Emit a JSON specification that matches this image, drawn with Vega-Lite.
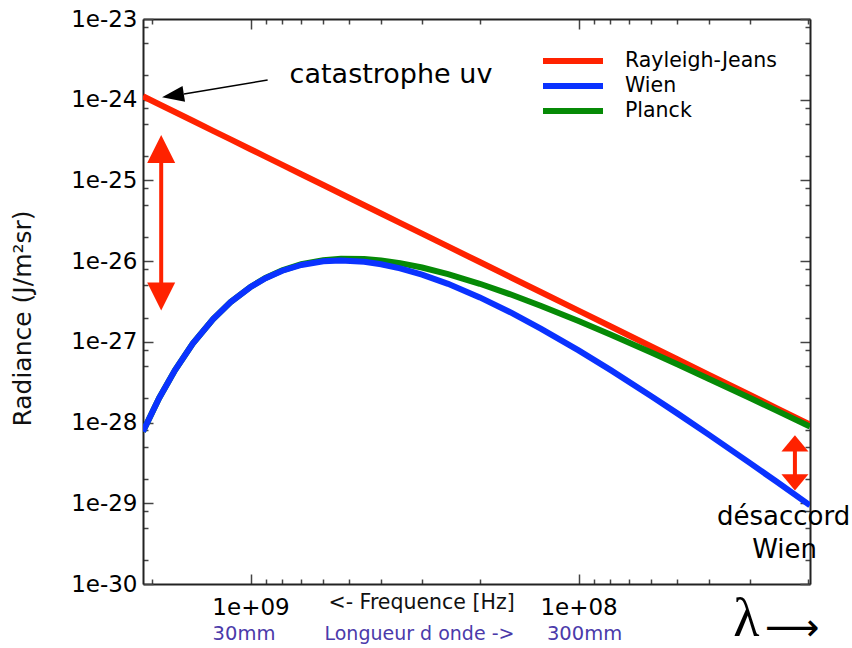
{
  "$schema": "https://vega.github.io/schema/vega-lite/v6.json",
  "width": 667,
  "height": 565,
  "autosize": "none",
  "padding": {"left": 143, "top": 19, "right": 42, "bottom": 64},
  "background": "white",
  "config": {"view": {"stroke": null}, "font": "DejaVu Sans"},
  "datasets": {
    "curves": [
      {"serie": "Rayleigh-Jeans", "nu": 2.127e9, "r": 1.102e-24},
      {"serie": "Rayleigh-Jeans", "nu": 1.9e9, "r": 8.793e-25},
      {"serie": "Rayleigh-Jeans", "nu": 1.7e9, "r": 7.040e-25},
      {"serie": "Rayleigh-Jeans", "nu": 1.5e9, "r": 5.481e-25},
      {"serie": "Rayleigh-Jeans", "nu": 1.3e9, "r": 4.117e-25},
      {"serie": "Rayleigh-Jeans", "nu": 1.15e9, "r": 3.222e-25},
      {"serie": "Rayleigh-Jeans", "nu": 1.0e9, "r": 2.436e-25},
      {"serie": "Rayleigh-Jeans", "nu": 9e8, "r": 1.973e-25},
      {"serie": "Rayleigh-Jeans", "nu": 8e8, "r": 1.559e-25},
      {"serie": "Rayleigh-Jeans", "nu": 7e8, "r": 1.194e-25},
      {"serie": "Rayleigh-Jeans", "nu": 6e8, "r": 8.770e-26},
      {"serie": "Rayleigh-Jeans", "nu": 5.3e8, "r": 6.843e-26},
      {"serie": "Rayleigh-Jeans", "nu": 4.5e8, "r": 4.933e-26},
      {"serie": "Rayleigh-Jeans", "nu": 4e8, "r": 3.898e-26},
      {"serie": "Rayleigh-Jeans", "nu": 3.5e8, "r": 2.984e-26},
      {"serie": "Rayleigh-Jeans", "nu": 3e8, "r": 2.192e-26},
      {"serie": "Rayleigh-Jeans", "nu": 2.5e8, "r": 1.523e-26},
      {"serie": "Rayleigh-Jeans", "nu": 2e8, "r": 9.744e-27},
      {"serie": "Rayleigh-Jeans", "nu": 1.6e8, "r": 6.236e-27},
      {"serie": "Rayleigh-Jeans", "nu": 1.3e8, "r": 4.117e-27},
      {"serie": "Rayleigh-Jeans", "nu": 1e8, "r": 2.436e-27},
      {"serie": "Rayleigh-Jeans", "nu": 8e7, "r": 1.559e-27},
      {"serie": "Rayleigh-Jeans", "nu": 6e7, "r": 8.770e-28},
      {"serie": "Rayleigh-Jeans", "nu": 5e7, "r": 6.090e-28},
      {"serie": "Rayleigh-Jeans", "nu": 4e7, "r": 3.898e-28},
      {"serie": "Rayleigh-Jeans", "nu": 3e7, "r": 2.192e-28},
      {"serie": "Rayleigh-Jeans", "nu": 2.5e7, "r": 1.523e-28},
      {"serie": "Rayleigh-Jeans", "nu": 1.97e7, "r": 9.454e-29},
      {"serie": "Wien", "nu": 2.127e9, "r": 7.76e-29},
      {"serie": "Wien", "nu": 1.9e9, "r": 2.002e-28},
      {"serie": "Wien", "nu": 1.7e9, "r": 4.454e-28},
      {"serie": "Wien", "nu": 1.5e9, "r": 9.502e-28},
      {"serie": "Wien", "nu": 1.3e9, "r": 1.920e-27},
      {"serie": "Wien", "nu": 1.15e9, "r": 3.109e-27},
      {"serie": "Wien", "nu": 1.0e9, "r": 4.782e-27},
      {"serie": "Wien", "nu": 9e8, "r": 6.143e-27},
      {"serie": "Wien", "nu": 8e8, "r": 7.602e-27},
      {"serie": "Wien", "nu": 7e8, "r": 8.974e-27},
      {"serie": "Wien", "nu": 6e8, "r": 9.959e-27},
      {"serie": "Wien", "nu": 5.3e8, "r": 1.020e-26},
      {"serie": "Wien", "nu": 4.5e8, "r": 9.826e-27},
      {"serie": "Wien", "nu": 4e8, "r": 9.161e-27},
      {"serie": "Wien", "nu": 3.5e8, "r": 8.147e-27},
      {"serie": "Wien", "nu": 3e8, "r": 6.810e-27},
      {"serie": "Wien", "nu": 2.5e8, "r": 5.232e-27},
      {"serie": "Wien", "nu": 2e8, "r": 3.556e-27},
      {"serie": "Wien", "nu": 1.6e8, "r": 2.284e-27},
      {"serie": "Wien", "nu": 1.3e8, "r": 1.452e-27},
      {"serie": "Wien", "nu": 1e8, "r": 7.832e-28},
      {"serie": "Wien", "nu": 8e7, "r": 4.491e-28},
      {"serie": "Wien", "nu": 6e7, "r": 2.122e-28},
      {"serie": "Wien", "nu": 5e7, "r": 1.300e-28},
      {"serie": "Wien", "nu": 4e7, "r": 7.041e-29},
      {"serie": "Wien", "nu": 3e7, "r": 3.144e-29},
      {"serie": "Wien", "nu": 2.5e7, "r": 1.872e-29},
      {"serie": "Wien", "nu": 1.97e7, "r": 9.437e-30},
      {"serie": "Planck", "nu": 2.127e9, "r": 7.76e-29},
      {"serie": "Planck", "nu": 1.9e9, "r": 2.002e-28},
      {"serie": "Planck", "nu": 1.7e9, "r": 4.454e-28},
      {"serie": "Planck", "nu": 1.5e9, "r": 9.504e-28},
      {"serie": "Planck", "nu": 1.3e9, "r": 1.921e-27},
      {"serie": "Planck", "nu": 1.15e9, "r": 3.114e-27},
      {"serie": "Planck", "nu": 1.0e9, "r": 4.798e-27},
      {"serie": "Planck", "nu": 9e8, "r": 6.181e-27},
      {"serie": "Planck", "nu": 8e8, "r": 7.685e-27},
      {"serie": "Planck", "nu": 7e8, "r": 9.147e-27},
      {"serie": "Planck", "nu": 6e8, "r": 1.030e-26},
      {"serie": "Planck", "nu": 5.3e8, "r": 1.074e-26},
      {"serie": "Planck", "nu": 4.5e8, "r": 1.066e-26},
      {"serie": "Planck", "nu": 4e8, "r": 1.022e-26},
      {"serie": "Planck", "nu": 3.5e8, "r": 9.448e-27},
      {"serie": "Planck", "nu": 3e8, "r": 8.333e-27},
      {"serie": "Planck", "nu": 2.5e8, "r": 6.907e-27},
      {"serie": "Planck", "nu": 2e8, "r": 5.245e-27},
      {"serie": "Planck", "nu": 1.6e8, "r": 3.831e-27},
      {"serie": "Planck", "nu": 1.3e8, "r": 2.785e-27},
      {"serie": "Planck", "nu": 1e8, "r": 1.811e-27},
      {"serie": "Planck", "nu": 8e7, "r": 1.232e-27},
      {"serie": "Planck", "nu": 6e7, "r": 7.364e-28},
      {"serie": "Planck", "nu": 5e7, "r": 5.268e-28},
      {"serie": "Planck", "nu": 4e7, "r": 3.473e-28},
      {"serie": "Planck", "nu": 3e7, "r": 2.011e-28},
      {"serie": "Planck", "nu": 2.5e7, "r": 1.417e-28},
      {"serie": "Planck", "nu": 1.97e7, "r": 8.936e-29}
    ],
    "blackarrow": [
      {"nu": 8.87e8, "r": 1.754e-24, "nu2": 1.595e9, "r2": 1.178e-24}
    ],
    "blackhead": [
      {"nu": 1.724e9, "r": 1.124e-24}
    ],
    "redarrows": [
      {"side": "left", "nu": 1.872e9, "r": 2.45e-25, "r2": 3.64e-27},
      {"side": "right", "nu": 2.19e7, "r": 5.52e-29, "r2": 1.82e-29}
    ],
    "redheads": [
      {"side": "left", "dir": "up", "nu": 1.872e9, "r": 2.45e-25},
      {"side": "left", "dir": "down", "nu": 1.872e9, "r": 3.64e-27},
      {"side": "right", "dir": "up", "nu": 2.19e7, "r": 5.52e-29},
      {"side": "right", "dir": "down", "nu": 2.19e7, "r": 1.82e-29}
    ],
    "texts": [
      {"kind": "cat", "label": "catastrophe uv", "nu": 7.6e8, "r": 2.02e-24},
      {"kind": "wien", "label": "désaccord", "nu": 2.37e7, "r": 6.75e-30},
      {"kind": "wien", "label": "Wien", "nu": 2.355e7, "r": 2.63e-30},
      {"kind": "freq", "label": "<- Frequence [Hz]", "nu": 5.785e8, "r": 5.75e-31},
      {"kind": "mm", "label": "30mm", "nu": 1.047e9, "r": 2.39e-31},
      {"kind": "onde", "label": "Longueur d onde ->", "nu": 5.95e8, "r": 2.39e-31},
      {"kind": "mm", "label": "300mm", "nu": 9.59e7, "r": 2.39e-31},
      {"kind": "lambda", "label": "λ", "nu": 3.08e7, "r": 3.55e-31},
      {"kind": "arrow", "label": "⟶", "nu": 2.23e7, "r": 2.8e-31}
    ]
  },
  "encoding": {
    "x": {"field": "nu", "type": "quantitative", "scale": {"type": "log", "domain": [1.97e7, 2.127e9], "reverse": true, "nice": false}, "axis": null},
    "y": {"field": "r", "type": "quantitative", "scale": {"type": "log", "domain": [1e-30, 1e-23], "nice": false}, "axis": null}
  },
  "layer": [
    {
      "data": {"name": "curves"},
      "transform": [{"filter": "datum.serie == 'Rayleigh-Jeans'"}],
      "mark": {"type": "line", "strokeWidth": 6, "strokeCap": "butt", "clip": true},
      "encoding": {
        "x": {"field": "nu", "type": "quantitative", "scale": {"type": "log", "domain": [1.97e7, 2.127e9], "reverse": true, "nice": false},
          "axis": {"orient": "bottom", "values": [2e7, 3e7, 4e7, 5e7, 6e7, 7e7, 8e7, 9e7, 1e8, 2e8, 3e8, 4e8, 5e8, 6e8, 7e8, 8e8, 9e8, 1e9, 2e9],
            "labelExpr": "abs(log(datum.value)/LN10 - round(log(datum.value)/LN10)) < 0.001 ? '1e+0' + round(log(datum.value)/LN10) : ''",
            "tickSize": {"condition": {"test": "abs(log(datum.value)/LN10 - round(log(datum.value)/LN10)) < 0.001", "value": -10}, "value": -5},
            "labelPadding": 22, "labelFontSize": 23, "labelFont": "DejaVu Sans", "labelColor": "#000", "labelFlush": false, "labelOverlap": false,
            "domainColor": "#222", "domainWidth": 2, "tickColor": "#444", "tickWidth": 1.5, "grid": false, "title": null}},
        "y": {"field": "r", "type": "quantitative", "scale": {"type": "log", "domain": [1e-30, 1e-23], "nice": false},
          "axis": {"orient": "left", "values": [1e-30, 2e-30, 5e-30, 8e-30, 1e-29, 2e-29, 5e-29, 8e-29, 1e-28, 2e-28, 5e-28, 8e-28, 1e-27, 2e-27, 5e-27, 8e-27, 1e-26, 2e-26, 5e-26, 8e-26, 1e-25, 2e-25, 5e-25, 8e-25, 1e-24, 2e-24, 5e-24, 8e-24, 1e-23],
            "labelExpr": "abs(log(datum.value)/LN10 - round(log(datum.value)/LN10)) < 0.001 ? '1e' + round(log(datum.value)/LN10) : ''",
            "tickSize": {"condition": {"test": "abs(log(datum.value)/LN10 - round(log(datum.value)/LN10)) < 0.001", "value": -10}, "value": -5},
            "labelPadding": 16, "labelFontSize": 23, "labelFont": "DejaVu Sans", "labelColor": "#000", "labelFlush": false, "labelOverlap": false,
            "domainColor": "#222", "domainWidth": 2, "tickColor": "#444", "tickWidth": 1.5, "grid": false,
            "title": "Radiance (J/m²sr)", "titleFont": "DejaVu Sans", "titleFontSize": 25, "titleFontWeight": "normal", "titleColor": "#111",
            "titleX": -121, "titleY": 299, "titleAngle": -90, "titleAlign": "center", "titleBaseline": "middle"}},
        "color": {"field": "serie", "type": "nominal",
          "scale": {"domain": ["Rayleigh-Jeans", "Wien", "Planck"], "range": ["#ff2200", "#0a32ff", "#068a06"]},
          "legend": {"orient": "none", "legendX": 417, "legendY": 29, "title": null, "padding": 0, "symbolType": "M-3,0H3", "symbolStrokeWidth": 6, "symbolSize": 400,
            "labelFontSize": 20.5, "labelFont": "DejaVu Sans", "labelColor": "#000", "labelOffset": 39, "rowPadding": -2}}
      }
    },
    {
      "data": {"name": "curves"},
      "transform": [{"filter": "datum.serie == 'Planck'"}],
      "mark": {"type": "line", "strokeWidth": 6, "strokeCap": "butt", "clip": true},
      "encoding": {
        "x": {"field": "nu", "type": "quantitative", "scale": {"type": "log", "domain": [1.97e7, 2.127e9], "reverse": true, "nice": false},
          "axis": {"orient": "top", "values": [2e7, 3e7, 4e7, 5e7, 6e7, 7e7, 8e7, 9e7, 1e8, 2e8, 3e8, 4e8, 5e8, 6e8, 7e8, 8e8, 9e8, 1e9, 2e9],
            "labels": false,
            "tickSize": {"condition": {"test": "abs(log(datum.value)/LN10 - round(log(datum.value)/LN10)) < 0.001", "value": -10}, "value": -5},
            "domainColor": "#222", "domainWidth": 2, "tickColor": "#444", "tickWidth": 1.5, "grid": false, "title": null}},
        "y": {"field": "r", "type": "quantitative", "scale": {"type": "log", "domain": [1e-30, 1e-23], "nice": false},
          "axis": {"orient": "right", "values": [1e-30, 2e-30, 5e-30, 8e-30, 1e-29, 2e-29, 5e-29, 8e-29, 1e-28, 2e-28, 5e-28, 8e-28, 1e-27, 2e-27, 5e-27, 8e-27, 1e-26, 2e-26, 5e-26, 8e-26, 1e-25, 2e-25, 5e-25, 8e-25, 1e-24, 2e-24, 5e-24, 8e-24, 1e-23],
            "labels": false,
            "tickSize": {"condition": {"test": "abs(log(datum.value)/LN10 - round(log(datum.value)/LN10)) < 0.001", "value": -10}, "value": -5},
            "domainColor": "#222", "domainWidth": 2, "tickColor": "#444", "tickWidth": 1.5, "grid": false, "title": null}},
        "color": {"field": "serie", "type": "nominal",
          "scale": {"domain": ["Rayleigh-Jeans", "Wien", "Planck"], "range": ["#ff2200", "#0a32ff", "#068a06"]},
          "legend": {"orient": "none", "legendX": 417, "legendY": 29, "title": null, "padding": 0, "symbolType": "M-3,0H3", "symbolStrokeWidth": 6, "symbolSize": 400,
            "labelFontSize": 20.5, "labelFont": "DejaVu Sans", "labelColor": "#000", "labelOffset": 39, "rowPadding": -2}}
      }
    },
    {
      "data": {"name": "curves"},
      "transform": [{"filter": "datum.serie == 'Wien'"}],
      "mark": {"type": "line", "strokeWidth": 6, "strokeCap": "butt", "clip": true},
      "encoding": {
        "color": {"field": "serie", "type": "nominal",
          "scale": {"domain": ["Rayleigh-Jeans", "Wien", "Planck"], "range": ["#ff2200", "#0a32ff", "#068a06"]},
          "legend": {"orient": "none", "legendX": 417, "legendY": 29, "title": null, "padding": 0, "symbolType": "M-3,0H3", "symbolStrokeWidth": 6, "symbolSize": 400,
            "labelFontSize": 20.5, "labelFont": "DejaVu Sans", "labelColor": "#000", "labelOffset": 39, "rowPadding": -2}}
      }
    },
    {
      "data": {"name": "blackarrow"},
      "mark": {"type": "rule", "color": "#000", "strokeWidth": 1.5},
      "encoding": {"x2": {"field": "nu2"}, "y2": {"field": "r2"}}
    },
    {
      "data": {"name": "blackhead"},
      "mark": {"type": "point", "shape": "M-1,0L1,-0.73L1,0.73Z", "filled": true, "color": "#000", "opacity": 1, "size": 484, "angle": -9, "strokeWidth": 0},
      "encoding": {}
    },
    {
      "data": {"name": "redarrows"},
      "mark": {"type": "rule", "color": "#ff2200", "strokeWidth": 4},
      "encoding": {"y2": {"field": "r2"}}
    },
    {
      "data": {"name": "redheads"},
      "transform": [{"filter": "datum.side == 'left' && datum.dir == 'up'"}],
      "mark": {"type": "point", "shape": "M0,-1L-1,1L1,1Z", "filled": true, "color": "#ff2200", "opacity": 1, "size": 784, "strokeWidth": 0},
      "encoding": {}
    },
    {
      "data": {"name": "redheads"},
      "transform": [{"filter": "datum.side == 'left' && datum.dir == 'down'"}],
      "mark": {"type": "point", "shape": "M0,1L-1,-1L1,-1Z", "filled": true, "color": "#ff2200", "opacity": 1, "size": 784, "strokeWidth": 0},
      "encoding": {}
    },
    {
      "data": {"name": "redheads"},
      "transform": [{"filter": "datum.side == 'right' && datum.dir == 'up'"}],
      "mark": {"type": "point", "shape": "M0,-0.6L-1,0.6L1,0.6Z", "filled": true, "color": "#ff2200", "opacity": 1, "size": 729, "strokeWidth": 0},
      "encoding": {}
    },
    {
      "data": {"name": "redheads"},
      "transform": [{"filter": "datum.side == 'right' && datum.dir == 'down'"}],
      "mark": {"type": "point", "shape": "M0,0.6L-1,-0.6L1,-0.6Z", "filled": true, "color": "#ff2200", "opacity": 1, "size": 729, "strokeWidth": 0},
      "encoding": {}
    },
    {
      "data": {"name": "texts"},
      "transform": [{"filter": "datum.kind == 'cat'"}],
      "mark": {"type": "text", "align": "left", "baseline": "middle", "font": "DejaVu Sans", "fontSize": 27, "color": "#000"},
      "encoding": {"text": {"field": "label"}}
    },
    {
      "data": {"name": "texts"},
      "transform": [{"filter": "datum.kind == 'wien'"}],
      "mark": {"type": "text", "align": "center", "baseline": "middle", "font": "DejaVu Sans", "fontSize": 26, "color": "#000"},
      "encoding": {"text": {"field": "label"}}
    },
    {
      "data": {"name": "texts"},
      "transform": [{"filter": "datum.kind == 'freq'"}],
      "mark": {"type": "text", "align": "left", "baseline": "middle", "font": "DejaVu Sans", "fontSize": 20.5, "color": "#111"},
      "encoding": {"text": {"field": "label"}}
    },
    {
      "data": {"name": "texts"},
      "transform": [{"filter": "datum.kind == 'mm'"}],
      "mark": {"type": "text", "align": "center", "baseline": "middle", "font": "DejaVu Sans", "fontSize": 19.5, "color": "#4b3aaa"},
      "encoding": {"text": {"field": "label"}}
    },
    {
      "data": {"name": "texts"},
      "transform": [{"filter": "datum.kind == 'onde'"}],
      "mark": {"type": "text", "align": "left", "baseline": "middle", "font": "DejaVu Sans", "fontSize": 19, "color": "#4b3aaa"},
      "encoding": {"text": {"field": "label"}}
    },
    {
      "data": {"name": "texts"},
      "transform": [{"filter": "datum.kind == 'lambda'"}],
      "mark": {"type": "text", "align": "center", "baseline": "middle", "font": "Liberation Serif", "fontSize": 54, "color": "#000"},
      "encoding": {"text": {"field": "label"}}
    },
    {
      "data": {"name": "texts"},
      "transform": [{"filter": "datum.kind == 'arrow'"}],
      "mark": {"type": "text", "align": "center", "baseline": "middle", "font": "DejaVu Sans", "fontSize": 38, "color": "#000"},
      "encoding": {"text": {"field": "label"}}
    }
  ],
  "resolve": {"axis": {"x": "independent", "y": "independent"}}
}
